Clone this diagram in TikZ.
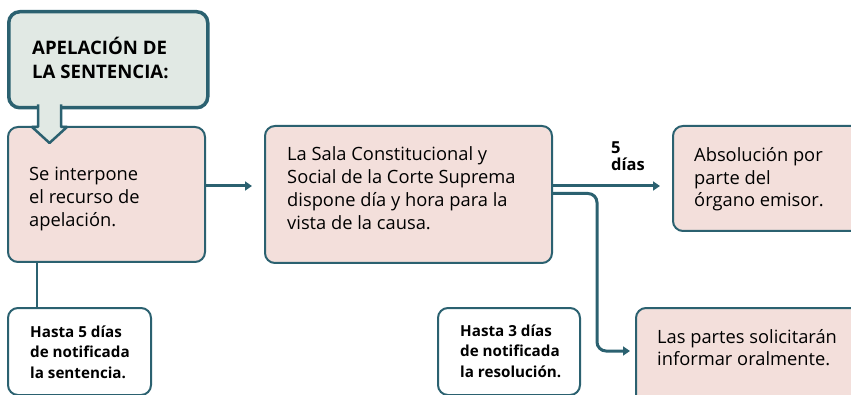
\documentclass[tikz,border=0pt]{standalone}
\usepackage{fontspec}
\setmainfont{Open Sans}
\usetikzlibrary{arrows.meta}
\definecolor{tealc}{HTML}{2B6170}
\definecolor{pinkf}{HTML}{F3DFDB}
\definecolor{greenf}{HTML}{E1E9E4}
\begin{document}
\begin{tikzpicture}[x=1pt,y=-1pt,
  pbox/.style={draw=tealc, line width=2pt, rounded corners=10pt, fill=pinkf,
    anchor=north west, inner sep=0pt},
  nbox/.style={draw=tealc, line width=2pt, rounded corners=10pt, fill=white,
    anchor=north west, inner sep=0pt},
  tbox/.style={draw=tealc, line width=3.5pt, rounded corners=11pt, fill=greenf,
    anchor=north west, inner sep=0pt},
  ptxt/.style={anchor=base west, inner sep=0pt, align=left,
    font=\fontsize{18.3}{23}\selectfont},
  ntxt/.style={anchor=base west, inner sep=0pt, align=left,
    font=\bfseries\fontsize{15.2}{20.5}\selectfont},
  ttxt/.style={anchor=base west, inner sep=0pt, align=left,
    font=\bfseries\fontsize{18.6}{23.3}\selectfont},
  conn/.style={draw=tealc, line width=3pt, -{Triangle[length=7pt,width=9pt]}},
  plain/.style={draw=tealc, line width=2pt}
]
\useasboundingbox (0,0) rectangle (851,395);
\clip (0,0) rectangle (851,395);

% boxes
\node[tbox, minimum width=199pt, minimum height=96pt] (title) at (7,10) {};
\node[pbox, minimum width=197pt, minimum height=135pt] (box1) at (7,126) {};

% block arrow
\fill[greenf] (38,100) -- (61,100) -- (61,127) -- (67,127) -- (49.5,143) -- (32,127) -- (38,127) -- cycle;
\draw[tealc, line width=2.5pt, line join=round] (38,104.5) -- (38,127) -- (32,127) -- (49.5,143) -- (67,127) -- (61,127) -- (61,104.5);

\node[pbox, minimum width=287pt, minimum height=137pt] (sala) at (264,125) {};
\node[pbox, minimum width=200pt, minimum height=105pt] (abs) at (672,125) {};
\node[pbox, minimum width=250pt, minimum height=120pt] (partes) at (635,307) {};
\node[nbox, minimum width=143pt, minimum height=87pt] (h5) at (7,307) {};
\node[nbox, minimum width=142pt, minimum height=87pt] (h3) at (437,307) {};

% texts (anchored at the baseline of their last line)
\node[ttxt] (titletxt) at (32,78.3) {APELACIÓN DE\\LA SENTENCIA:};
\node[ptxt] (box1txt) at (29,227) {Se interpone\\el recurso de\\apelación.};
\node[ptxt] (salatxt) at (287,230) {La Sala Constitucional y\\Social de la Corte Suprema\\dispone día y hora para la\\vista de la causa.};
\node[ptxt, font=\fontsize{18.3}{22.5}\selectfont] (abstxt) at (694,206.7) {Absolución por\\parte del\\órgano emisor.};
\node[ptxt, font=\fontsize{18.3}{22}\selectfont] (partestxt) at (657,365) {Las partes solicitarán\\informar oralmente.};
\node[ntxt] (h5txt) at (30,378) {Hasta 5 días\\de notificada\\la sentencia.};
\node[ntxt] (h3txt) at (460,377) {Hasta 3 días\\de notificada\\la resolución.};
\node[ntxt, font=\bfseries\fontsize{16.5}{17}\selectfont] (lbl) at (611,171) {5\\días};

% connectors
\coordinate (b1a) at ([yshift=8.5pt]box1.east);
\coordinate (s0) at (sala.west |- b1a);
\draw[conn] (b1a) -- ([xshift=-12pt]s0);

\coordinate (s1) at ([yshift=8.5pt]sala.east);
\coordinate (a0) at (abs.west |- s1);
\draw[conn] (s1) -- ([xshift=-12pt]a0);

\coordinate (bend) at (597,351);
\coordinate (p1) at ([xshift=-5pt,yshift=-44pt]partes.north west);
\draw[conn, rounded corners=9pt] ([yshift=1pt]sala.east) -| (bend) -- (p1);

\coordinate (v0) at ([xshift=30pt]box1.south west);
\draw[plain] (v0) -- (v0 |- h5.north);
\end{tikzpicture}
\end{document}
